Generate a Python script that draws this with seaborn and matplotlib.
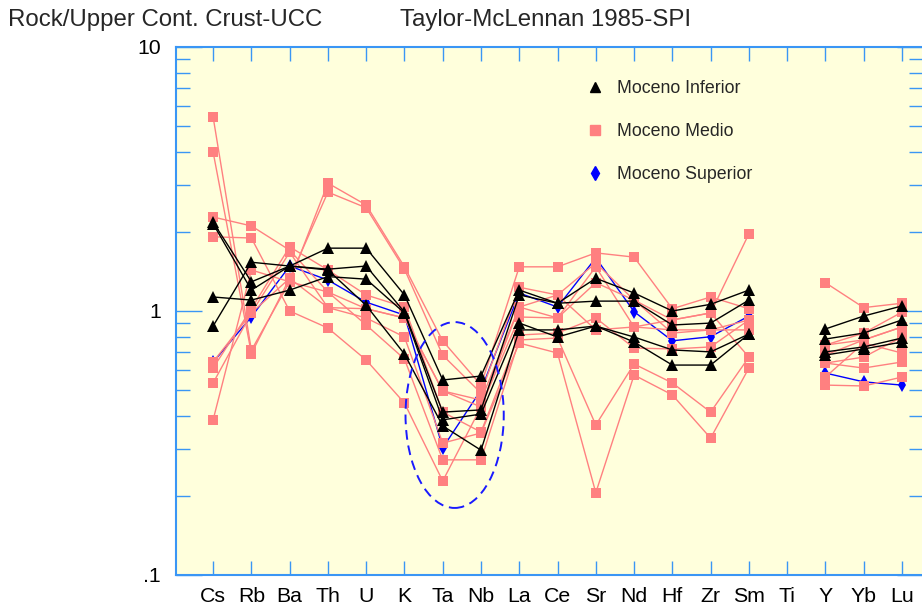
import numpy as np
import pandas as pd
import matplotlib
matplotlib.use("Agg")
import matplotlib.pyplot as plt
from matplotlib import font_manager
from matplotlib.patches import Ellipse
from matplotlib.lines import Line2D
from matplotlib.ticker import FixedLocator, FixedFormatter, LogLocator, NullFormatter
import seaborn as sns

nan = np.nan

# Spider diagram: rock / upper continental crust (Taylor & McLennan 1985)
elements = ["Cs", "Rb", "Ba", "Th", "U", "K", "Ta", "Nb", "La", "Ce",
            "Sr", "Nd", "Hf", "Zr", "Sm", "Ti", "Y", "Yb", "Lu"]

# Moceno Inferior
inferior_1 = [2.17, 1.29, 1.48, 1.73, 1.73, 1.15, 0.548, 0.567, 1.20, 1.07, 1.33, 1.17, 1.00, 1.06, 1.20, nan, 0.855, 0.957, 1.045]
inferior_2 = [2.14, 1.20, 1.48, 1.44, 1.48, 0.99, 0.414, 0.422, 1.15, 1.07, 1.09, 1.09, 0.885, 0.90, 1.10, nan, 0.783, 0.825, 0.925]
inferior_3 = [1.13, 1.10, 1.20, 1.35, 1.32, 0.983, 0.387, 0.407, 0.90, 0.797, 0.877, 0.797, 0.712, 0.70, 0.818, nan, 0.70, 0.731, 0.79]
inferior_4 = [0.877, 1.53, 1.48, 1.43, 1.05, 0.687, 0.367, 0.297, 0.848, 0.848, 0.877, 0.763, 0.624, 0.624, 0.818, nan, 0.681, 0.718, 0.763]

# Moceno Medio
medio_1 = [5.43, 0.71, 1.29, 3.05, 2.52, 1.47, 0.77, 0.524, 1.47, 1.47, 1.66, 1.60, 1.02, 1.13, 1.02, nan, 1.28, 1.03, 1.07]
medio_2 = [4.00, 0.69, 1.33, 2.82, 2.46, 1.44, 0.68, 0.489, 1.23, 1.15, 1.52, 1.10, 0.925, 0.983, 1.96, nan, 0.743, 0.825, 0.99]
medio_3 = [2.27, 2.10, 1.70, 1.18, 1.02, 0.941, 0.498, 0.46, 1.035, 0.941, 1.47, 0.87, 0.848, 0.848, 0.925, nan, 0.681, 0.777, 0.87]
medio_4 = [1.91, 1.89, 1.00, 0.862, 0.652, 0.448, 0.227, 0.433, 0.949, 0.941, 1.28, 1.10, 0.825, 0.848, 0.848, nan, 0.635, 0.669, 0.797]
medio_5 = [0.608, 1.02, 1.75, 1.43, 1.15, 1.035, 0.414, 0.348, 0.811, 0.825, 0.941, 0.724, 0.718, 0.731, 0.925, nan, 0.562, 0.756, 0.693]
medio_6 = [0.534, 0.983, 1.67, 1.03, 0.941, 0.797, 0.316, 0.345, 0.756, 0.693, 0.205, 0.572, 0.481, 0.330, 0.608, nan, 0.524, 0.520, 0.562]
medio_7 = [0.387, 1.43, 1.29, 1.18, 0.885, 0.658, 0.273, 0.273, 0.777, 0.790, 0.370, 0.630, 0.534, 0.414, 0.669, nan, 0.635, 0.608, 0.641]
medio_8 = [0.641, 0.983, 1.33, 1.03, 1.02, 0.941, 0.498, 0.433, 1.035, 1.15, 0.848, 0.870, 0.925, 0.983, 0.669, nan, 0.743, 0.777, 0.870]

# Moceno Superior
superior_1 = [0.64, 0.95, 1.48, 1.31, 1.08, 0.965, 0.303, 0.502, 1.17, 1.035, 1.59, 0.994, 0.771, 0.799, 0.957, nan, 0.582, 0.539, 0.524]

groups = {
    "Moceno Inferior": [inferior_1, inferior_2, inferior_3, inferior_4],
    "Moceno Medio": [medio_1, medio_2, medio_3, medio_4, medio_5, medio_6, medio_7, medio_8],
    "Moceno Superior": [superior_1],
}


def to_long(name, series_list):
    """Long table; a gap (missing element) starts a new line segment."""
    rows = []
    for k, vals in enumerate(series_list):
        seg = 0
        for i, v in enumerate(vals):
            if np.isnan(v):
                seg += 1
                continue
            rows.append({"pos": i, "ratio": v, "seg": f"{name}-{k}-{seg}"})
    return pd.DataFrame(rows)


sns.set_theme(style="ticks")
names = {f.name for f in font_manager.fontManager.ttflist}
narrow = "Liberation Sans Narrow" in names
family = ["Liberation Sans Narrow", "Liberation Sans", "DejaVu Sans"] if narrow else ["Liberation Sans", "DejaVu Sans"]
k = 1.0 if narrow else 0.85
plt.rcParams["font.family"] = family

spine_c = "#3a96f5"
face_c = "#ffffdc"
pink = "#ff8080"

fig = plt.figure(figsize=(9.22, 6.13), dpi=100)
ax = fig.add_axes([176 / 922, 38 / 613, 747 / 922, 528 / 613])
ax.set_facecolor(face_c)

styles = {
    "Moceno Superior": dict(color="#0000ff", marker="d", markersize=7, z=1.5),
    "Moceno Medio": dict(color=pink, marker="s", markersize=7, z=2),
    "Moceno Inferior": dict(color="black", marker="^", markersize=8, z=3),
}

for name in ["Moceno Superior", "Moceno Medio", "Moceno Inferior"]:
    st = styles[name]
    df = to_long(name, groups[name])
    sns.lineplot(data=df, x="pos", y="ratio", units="seg", estimator=None,
                 sort=False, color=st["color"], marker=st["marker"],
                 markersize=st["markersize"], markeredgewidth=0,
                 markeredgecolor=st["color"], linewidth=1.0,
                 legend=False, ax=ax, zorder=st["z"])

ax.set_yscale("log")
ax.set_ylim(0.1, 10)
ax.set_xlim(-0.97, 18.55)
ax.yaxis.set_major_locator(FixedLocator([0.1, 1, 10]))
ax.yaxis.set_major_formatter(FixedFormatter([".1", "1", "10"]))
ax.yaxis.set_minor_locator(LogLocator(base=10, subs=np.arange(2, 10)))
ax.yaxis.set_minor_formatter(NullFormatter())
ax.set_xticks(range(len(elements)))
ax.set_xticklabels(elements)
ax.set_xlabel("")
ax.set_ylabel("")

for sp in ax.spines.values():
    sp.set_color(spine_c)
    sp.set_linewidth(1.5)

ax.tick_params(axis="both", which="both", direction="in", color=spine_c,
               labelcolor="black", top=True, right=True, width=1.0)
ax.tick_params(axis="y", which="major", length=19, pad=11, labelsize=18 * k)
ax.tick_params(axis="y", which="minor", length=10)
ax.tick_params(axis="x", which="major", length=10, pad=9, labelsize=18 * k)

# Ta-Nb anomaly highlight
ax.add_patch(Ellipse((0.373, 0.303), 0.1315, 0.352, transform=ax.transAxes,
                     fill=False, edgecolor="#1a1aff", linewidth=1.4,
                     linestyle=(0, (5, 3)), zorder=5))

handles = [
    Line2D([], [], color="black", marker="^", linestyle="none", markersize=7),
    Line2D([], [], color=pink, marker="s", linestyle="none", markersize=7),
    Line2D([], [], color="#0000ff", marker="d", linestyle="none", markersize=7),
]
ax.legend(handles, ["Moceno Inferior", "Moceno Medio", "Moceno Superior"],
          loc="upper left", bbox_to_anchor=(0.528, 0.967), frameon=False,
          fontsize=15 * k, labelspacing=1.45, handlelength=1.0,
          handletextpad=0.75)

fig.text(8 / 922, 1 - 20 / 613, "Rock/Upper Cont. Crust-UCC",
         fontsize=20.3 * k, va="center", ha="left")
fig.text(400 / 922, 1 - 20 / 613, "Taylor-McLennan 1985-SPI",
         fontsize=20.3 * k, va="center", ha="left")

fig.savefig("out.png", dpi=100, facecolor="white")
